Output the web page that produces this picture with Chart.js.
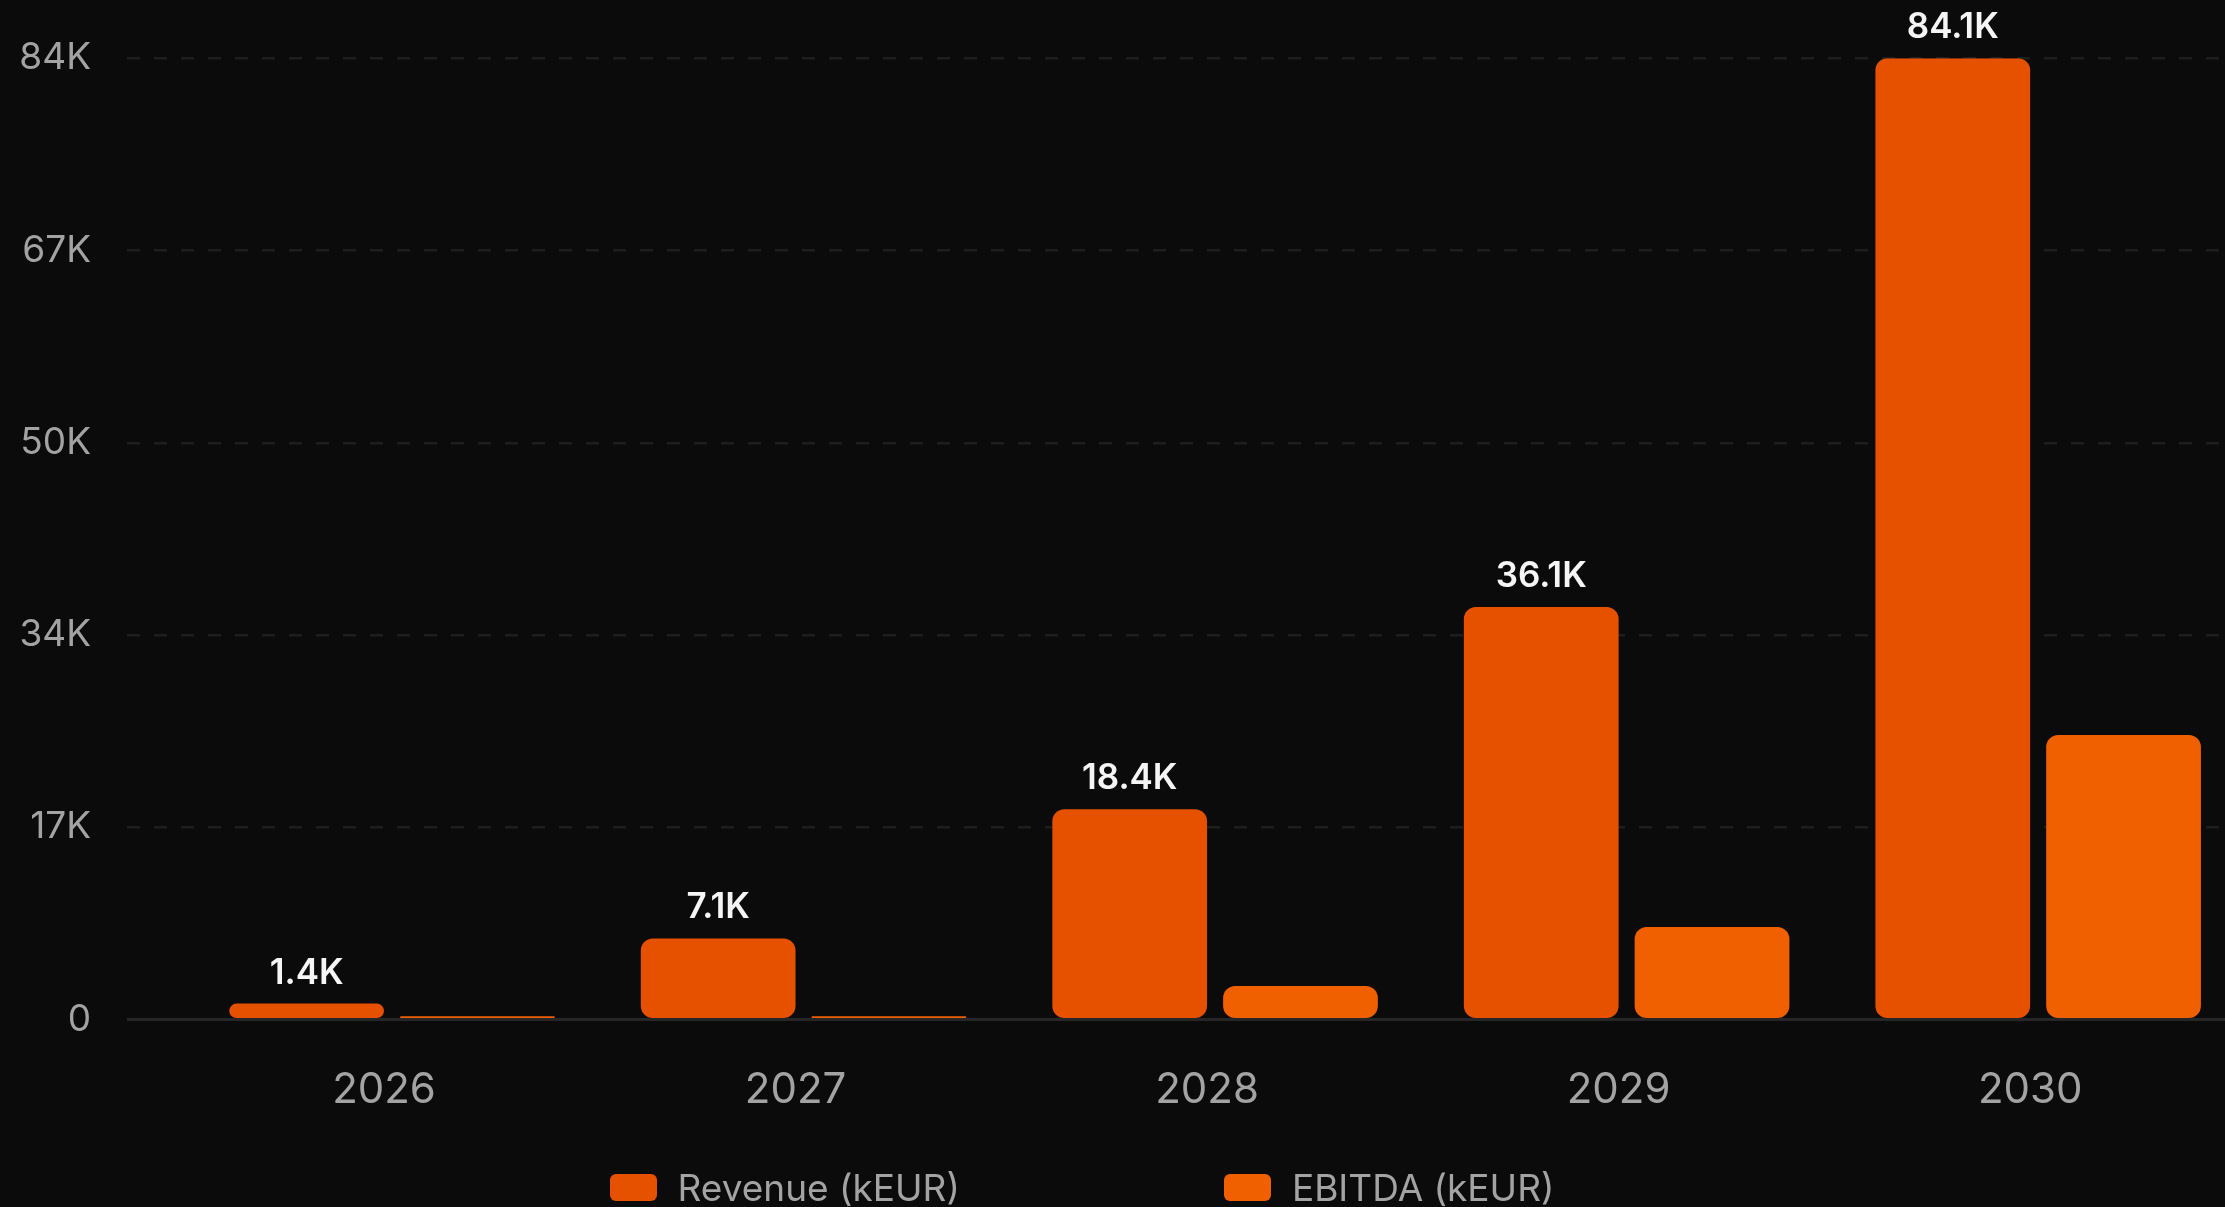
<!DOCTYPE html>
<html>
<head>
  <script src="https://cdn.jsdelivr.net/npm/chart.js"></script>
  <style>
    html, body { margin: 0; padding: 0; background: #0b0b0b; overflow: hidden; }
    #wrap { position: relative; width: 2225px; height: 1207px; }
    #legend {
      position: absolute; left: 0; top: 1165px; width: 2164px;
      display: flex; justify-content: center; column-gap: 264px;
      font-family: Inter, sans-serif; font-size: 37px; line-height: 45px; color: #a3a3a3;
    }
    .item { display: flex; align-items: center; }
    .box { width: 47px; height: 27px; border-radius: 6px; margin-right: 21px; }
  </style>
</head>
<body>
  <div id="wrap">
    <canvas id="finChart"></canvas>
    <div id="legend"></div>
  </div>

  <script>
    // values (kEUR)
    const years = ['2026', '2027', '2028', '2029', '2030'];
    const revenue = [1400, 7100, 18400, 36100, 84100];
    const ebitda = [300, 300, 2950, 8100, 24900];
    const revenueLabels = ['1.4K', '7.1K', '18.4K', '36.1K', '84.1K'];
    const yTickLabels = ['0', '17K', '34K', '50K', '67K', '84K'];
    const yMax = 84100;

    const revenueColor = '#e65100';
    const ebitdaColor = '#f06000';

    // draws the value above each revenue bar
    const valueLabels = {
      id: 'valueLabels',
      afterDatasetsDraw(chart) {
        const ctx = chart.ctx;
        const meta = chart.getDatasetMeta(0);
        ctx.save();
        ctx.font = '600 35px Inter';
        ctx.fillStyle = '#f5f5f5';
        ctx.textAlign = 'center';
        ctx.textBaseline = 'alphabetic';
        meta.data.forEach((bar, i) => {
          ctx.fillText(revenueLabels[i], bar.x, bar.y - 20);
        });
        ctx.restore();
      }
    };

    const ctx = document.getElementById('finChart').getContext('2d');
    const finChart = new Chart(ctx, {
      type: 'bar',
      data: {
        datasets: [{
          label: 'Revenue (kEUR)',
          data: revenue.map((v, i) => ({ x: i, y: v })),
          backgroundColor: revenueColor,
          borderWidth: 0,
          borderRadius: 12,
          borderSkipped: false,
        }, {
          label: 'EBITDA (kEUR)',
          data: ebitda.map((v, i) => ({ x: i, y: v })),
          backgroundColor: ebitdaColor,
          borderWidth: 0,
          borderRadius: 12,
          borderSkipped: false,
        }],
      },
      options: {
        responsive: true,
        maintainAspectRatio: false,
        animation: false,
        categoryPercentage: 0.83,
        barPercentage: 0.906,
        layout: { padding: { top: 58, bottom: 45, left: 0, right: 0 } },
        plugins: {
          legend: { display: false },
          tooltip: { enabled: false },
        },
        scales: {
          x: {
            type: 'linear',
            min: -0.644,
            max: 4.454,
            offset: false,
            grid: { display: false, drawTicks: false },
            border: { display: false },
            ticks: {
              stepSize: 1,
              includeBounds: false,
              autoSkip: false,
              maxRotation: 0,
              padding: 46,
              labelOffset: -8,
              color: '#a3a3a3',
              font: { family: 'Inter', size: 42 },
              callback: (v) => years[v] ?? '',
            },
          },
          y: {
            min: 0,
            max: yMax,
            afterFit: (scale) => { scale.width = 127; },
            grid: {
              drawTicks: false,
              color: (c) => c.tick.value === 0 ? '#262626' : '#1e1e1e',
              lineWidth: (c) => c.tick.value === 0 ? 3 : 2.5,
            },
            border: {
              display: false,
              dash: (c) => c.tick && c.tick.value === 0 ? [] : [13, 14],
            },
            ticks: {
              stepSize: yMax / 5,
              padding: 36,
              color: '#a3a3a3',
              font: { family: 'Inter', size: 37 },
              callback: (v, i) => yTickLabels[i],
            },
          },
        },
      },
      plugins: [valueLabels],
    });

    // legend below the chart, built from the datasets
    const legendEl = document.getElementById('legend');
    finChart.data.datasets.forEach((ds) => {
      const item = document.createElement('div');
      item.className = 'item';
      const box = document.createElement('span');
      box.className = 'box';
      box.style.background = ds.backgroundColor;
      const txt = document.createElement('span');
      txt.textContent = ds.label;
      item.appendChild(box);
      item.appendChild(txt);
      legendEl.appendChild(item);
    });
  </script>
</body>
</html>
